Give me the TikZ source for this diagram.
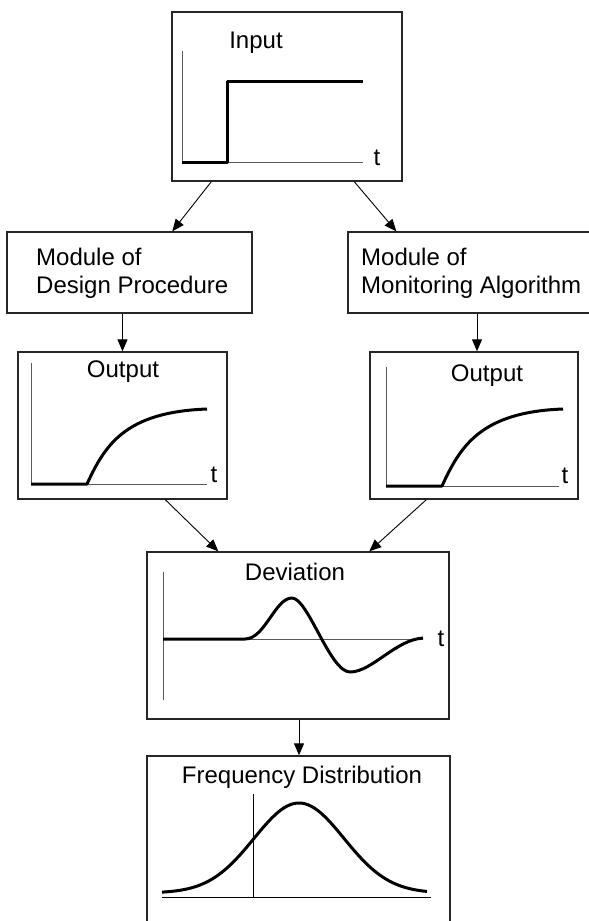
\documentclass[tikz,border=0pt]{standalone}
\usepackage{fontspec}
\setmainfont{Liberation Sans}
\usetikzlibrary{arrows.meta}
\begin{document}
\begin{tikzpicture}[x=1pt,y=-1pt,
  box/.style={draw=black!85,line width=1.4pt,inner sep=0pt,fill=none},
  lbl/.style={inner sep=0pt,font=\fontsize{24}{28}\selectfont},
  axis/.style={draw=black!65,line width=0.9pt},
  curve/.style={line width=3pt,line join=round},
  arr/.style={line width=0.9pt,-{Triangle[length=12pt,width=10pt]}}]
\useasboundingbox (0,0) rectangle (589,921);
\clip (0,0) rectangle (589,921);
% boxes
\node[box,minimum width=230,minimum height=169] (in) at (287,96.5) {};
\node[box,minimum width=245,minimum height=81] (des) at (129.5,272.5) {};
\node[box,minimum width=250,minimum height=81] (mon) at (473,272.5) {};
\node[box,minimum width=209,minimum height=147] (out1) at (122.5,425.5) {};
\node[box,minimum width=208,minimum height=147] (out2) at (474,425.5) {};
\node[box,minimum width=302,minimum height=167] (dev) at (298,635.5) {};
\node[box,minimum width=303,minimum height=190] (freq) at (298.5,851) {};
% labels
\node[lbl] (tin) at (256,43) {Input};
\node[lbl] (tin2) at (377,158) {t};
\node[lbl,anchor=west,align=left] (tdes) at (36,273) {Module of\\Design Procedure};
\node[lbl,anchor=west,align=left] (tmon) at (361,273) {Module of\\Monitoring Algorithm};
\node[lbl] (to1) at (123,372) {Output};
\node[lbl] (to1t) at (214,475) {t};
\node[lbl] (to2) at (487,376) {Output};
\node[lbl] (to2t) at (565,476) {t};
\node[lbl] (tdev) at (295,572) {Deviation};
\node[lbl] (tdevt) at (441,639) {t};
\node[lbl] (tfreq) at (302,777) {Frequency Distribution};
% input plot
\draw[axis] (182,51) -- (182,162);
\draw[axis] (227,162) -- (363,162);
\draw[curve] (182,162) -- (227,162) -- (227,81) -- (363,81);
% output 1
\draw[axis] (31,363) -- (31,484) -- (207,484);
\draw[curve] (31,484) -- (87,484) .. controls (105,445) and (125,412) .. (207,409);
% output 2
\draw[axis] (386,367) -- (386,486) -- (559,486);
\draw[curve] (386,486) -- (442,486) .. controls (460,447) and (480,412) .. (563,409);
% deviation
\draw[axis] (163,572) -- (163,700);
\draw[axis] (163,639) -- (423,639);
\draw[curve] (163,639) -- (245,639) .. controls (265,639) and (275,598) .. (292,598)
  .. controls (308,598) and (330,672) .. (350,672)
  .. controls (372,672) and (395,640) .. (423,638);
% frequency
\draw[line width=0.9pt] (253,794) -- (253,897);
\draw[line width=0.9pt] (162,897) -- (431,897);
\draw[curve] plot[domain=162:427,samples=90,smooth] (\x,{893-90*exp(-0.5*((\x-299)/45)^2)});
% connectors
\draw[arr] ([xshift=40pt]in.south west) -- ([xshift=166pt]des.north west);
\draw[arr] ([xshift=183pt]in.south west) -- ([xshift=49pt]mon.north west);
\draw[arr] (out1.north |- des.south) -- (out1.north);
\draw[arr] ([xshift=3pt]out2.north |- mon.south) -- ([xshift=3pt]out2.north);
\draw[arr] ([xshift=148pt]out1.south west) -- ([xshift=72pt]dev.north west);
\draw[arr] ([xshift=57pt]out2.south west) -- ([xshift=223pt]dev.north west);
\draw[arr] ([xshift=1pt]dev.south) -- ([xshift=0.5pt]freq.north);
\end{tikzpicture}
\end{document}
